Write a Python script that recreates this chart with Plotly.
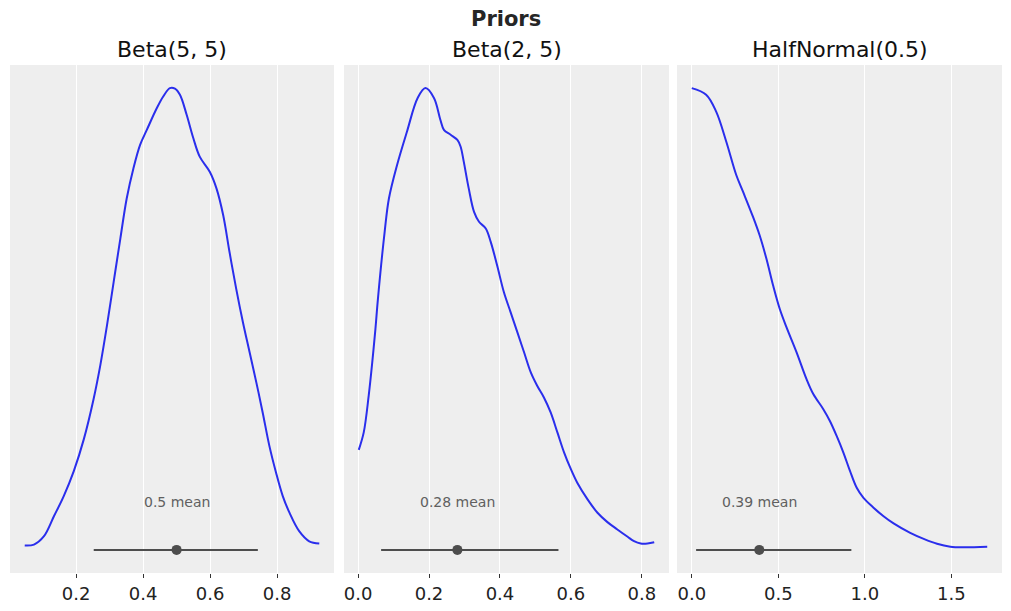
import plotly.graph_objects as go

# ---------------- data ----------------
titles = ["Beta(5, 5)", "Beta(2, 5)", "HalfNormal(0.5)"]
suptitle = "Priors"

beta55_x = [0.0465, 0.074, 0.104, 0.134, 0.163, 0.193, 0.223, 0.252, 0.272, 0.292, 0.312, 0.332,
            0.351, 0.371, 0.391, 0.411, 0.441, 0.460, 0.480, 0.495, 0.510, 0.530, 0.550, 0.569,
            0.599, 0.619, 0.639, 0.658, 0.678, 0.698, 0.718, 0.738, 0.757, 0.777, 0.797, 0.817,
            0.837, 0.866, 0.896, 0.926]
beta55_y = [0.000, 0.005, 0.050, 0.158, 0.265, 0.399, 0.570, 0.784, 0.964, 1.178, 1.411, 1.644,
            1.859, 2.020, 2.146, 2.226, 2.343, 2.405, 2.450, 2.447, 2.414, 2.307, 2.181, 2.083,
            2.002, 1.913, 1.770, 1.572, 1.375, 1.196, 1.035, 0.874, 0.713, 0.534, 0.390, 0.265,
            0.176, 0.077, 0.023, 0.011]

beta25_x = [0.002, 0.016, 0.030, 0.040, 0.049, 0.056, 0.075, 0.087, 0.110, 0.138, 0.168, 0.190,
            0.214, 0.232, 0.242, 0.261, 0.280, 0.289, 0.298, 0.312, 0.327, 0.341, 0.360, 0.374,
            0.392, 0.411, 0.430, 0.449, 0.468, 0.487, 0.505, 0.524, 0.543, 0.562, 0.581, 0.600,
            0.618, 0.647, 0.675, 0.703, 0.731, 0.760, 0.778, 0.797, 0.816, 0.835]
beta25_y = [0.523, 0.618, 0.819, 1.001, 1.184, 1.348, 1.714, 1.896, 2.079, 2.262, 2.445, 2.499,
            2.445, 2.326, 2.271, 2.244, 2.216, 2.180, 2.097, 1.951, 1.823, 1.769, 1.732, 1.659,
            1.531, 1.385, 1.275, 1.166, 1.056, 0.946, 0.873, 0.809, 0.727, 0.618, 0.508, 0.417,
            0.343, 0.252, 0.179, 0.128, 0.088, 0.048, 0.024, 0.011, 0.011, 0.018]

halfnorm_x = [0.000, 0.083, 0.141, 0.199, 0.257, 0.296, 0.354, 0.392, 0.431, 0.470, 0.508, 0.547,
              0.605, 0.663, 0.702, 0.760, 0.798, 0.837, 0.876, 0.914, 0.953, 0.992, 1.050, 1.108,
              1.166, 1.262, 1.340, 1.417, 1.494, 1.572, 1.707]
halfnorm_y = [1.600, 1.577, 1.518, 1.414, 1.297, 1.239, 1.151, 1.087, 1.006, 0.912, 0.831, 0.767,
              0.680, 0.586, 0.534, 0.481, 0.440, 0.388, 0.330, 0.266, 0.207, 0.172, 0.138, 0.108,
              0.083, 0.050, 0.029, 0.012, 0.002, 0.000, 0.002]

means = [0.5, 0.28, 0.39]
mean_labels = ["0.5 mean", "0.28 mean", "0.39 mean"]
hdi_low = [0.2525, 0.065, 0.025]
hdi_high = [0.7426, 0.565, 0.922]
hdi_level = [-0.0233, -0.0238, -0.0093]

tick_vals = [[0.2, 0.4, 0.6, 0.8], [0.0, 0.2, 0.4, 0.6, 0.8], [0.0, 0.5, 1.0, 1.5]]
tick_text = [["0.2", "0.4", "0.6", "0.8"], ["0.0", "0.2", "0.4", "0.6", "0.8"],
             ["0.0", "0.5", "1.0", "1.5"]]

curves = [(beta55_x, beta55_y), (beta25_x, beta25_y), (halfnorm_x, halfnorm_y)]

# ---------------- figure ----------------
W, H = 1011, 611
FONT = "DejaVu Sans"
LINE_C = "#2a2eec"
HDI_C = "#4d4d4d"
BG = "#eeeeee"

x_px = [(10, 334), (344, 669), (677, 1002)]
y_top, y_bot = 65, 573

fig = go.Figure()
annotations = []
for i, ((xs, ys), title) in enumerate(zip(curves, titles)):
    n = "" if i == 0 else str(i + 1)
    xa, ya = "x" + n, "y" + n
    fig.add_trace(go.Scatter(x=xs, y=ys, mode="lines", line=dict(color=LINE_C, width=2),
                             line_shape="spline", xaxis=xa, yaxis=ya, showlegend=False))
    fig.add_trace(go.Scatter(x=[hdi_low[i], hdi_high[i]], y=[hdi_level[i], hdi_level[i]],
                             mode="lines", line=dict(color=HDI_C, width=2),
                             xaxis=xa, yaxis=ya, showlegend=False))
    fig.add_trace(go.Scatter(x=[means[i]], y=[hdi_level[i]], mode="markers",
                             marker=dict(color=HDI_C, size=10), xaxis=xa, yaxis=ya,
                             showlegend=False))
    xmin, xmax = min(xs), max(xs)
    xm = 0.05 * (xmax - xmin)
    ymin, ymax = hdi_level[i], max(ys)
    span = ymax - ymin
    ym = 0.05 * span
    d0, d1 = x_px[i]
    fig.update_layout(**{
        ("xaxis" + n): dict(domain=[d0 / W, d1 / W], range=[xmin - xm, xmax + xm],
                            anchor=ya, showgrid=True, gridcolor="white", gridwidth=1,
                            zeroline=False, tickmode="array", tickvals=tick_vals[i],
                            ticktext=tick_text[i], ticks="outside", ticklen=4, tickwidth=1,
                            tickcolor="#333333", showline=False,
                            tickfont=dict(family=FONT, size=18, color="#222222")),
        ("yaxis" + n): dict(domain=[1 - y_bot / H, 1 - y_top / H], range=[ymin - ym, ymax + ym],
                            anchor=xa, showgrid=False, zeroline=False, showticklabels=False,
                            ticks=""),
    })
    annotations.append(dict(x=means[i], y=ymin + 0.104 * span, xref=xa, yref=ya,
                            text=mean_labels[i], showarrow=False, xanchor="center",
                            yanchor="middle", font=dict(family=FONT, size=14, color="#606060")))
    annotations.append(dict(x=(d0 + d1) / 2 / W, y=1 - 50 / H, xref="paper", yref="paper",
                            text=title, showarrow=False, xanchor="center", yanchor="middle",
                            font=dict(family=FONT, size=22, color="#111111")))

annotations.append(dict(x=0.5, y=1 - 19 / H, xref="paper", yref="paper",
                        text="<b>" + suptitle + "</b>", showarrow=False, xanchor="center",
                        yanchor="middle", font=dict(family=FONT, size=21, color="#262626")))

fig.update_layout(width=W, height=H, margin=dict(l=0, r=0, t=0, b=0),
                  paper_bgcolor="white", plot_bgcolor=BG, annotations=annotations,
                  font=dict(family=FONT))

fig.write_html("out.html")
